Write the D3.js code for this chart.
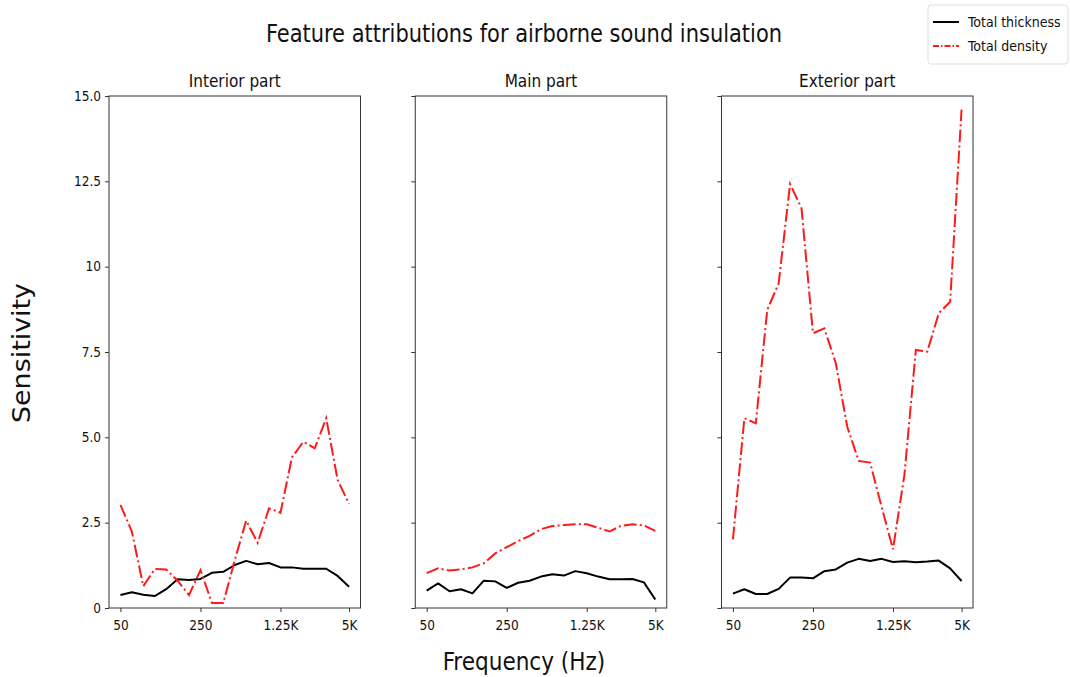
<!DOCTYPE html>
<html>
<head>
<meta charset="utf-8">
<script src="https://cdn.jsdelivr.net/npm/d3@7.9.0/dist/d3.min.js"></script>
<style>
  body { margin: 0; background: #fff; }
  svg { display: block; font-family: "DejaVu Sans", sans-serif; }
</style>
</head>
<body>
<svg id="chart" width="1070" height="677"></svg>
<script>
// third-octave bands, 50 Hz .. 5 kHz
const bands = ['50','63','80','100','125','160','200','250','315','400','500','630','800','1K','1.25K','1.6K','2K','2.5K','3.15K','4K','5K'];
const xTickIdx = [0, 7, 14, 20];
const xTickLabels = ['50', '250', '1.25K', '5K'];
const yTicks = [0, 2.5, 5, 7.5, 10, 12.5, 15];
const yTickLabels = ['0', '2.5', '5.0', '7.5', '10', '12.5', '15.0'];

const panelTitles = ['Interior part', 'Main part', 'Exterior part'];

const thicknessInterior = [0.38, 0.46, 0.39, 0.35, 0.55, 0.84, 0.82, 0.85, 1.03, 1.06, 1.26, 1.38, 1.28, 1.32, 1.19, 1.19, 1.15, 1.15, 1.15, 0.94, 0.62];
const densityInterior   = [3.02, 2.24, 0.64, 1.14, 1.13, 0.80, 0.38, 1.11, 0.15, 0.15, 1.40, 2.56, 1.91, 2.92, 2.79, 4.41, 4.87, 4.68, 5.56, 3.75, 3.05];

const thicknessMain = [0.51, 0.72, 0.49, 0.55, 0.43, 0.80, 0.78, 0.59, 0.74, 0.80, 0.92, 0.99, 0.95, 1.08, 1.02, 0.92, 0.84, 0.84, 0.85, 0.75, 0.25];
const densityMain   = [1.02, 1.16, 1.10, 1.13, 1.19, 1.31, 1.60, 1.78, 1.96, 2.11, 2.31, 2.40, 2.43, 2.45, 2.45, 2.35, 2.24, 2.41, 2.45, 2.42, 2.26];

const thicknessExterior = [0.42, 0.55, 0.41, 0.41, 0.56, 0.89, 0.89, 0.87, 1.08, 1.13, 1.33, 1.44, 1.38, 1.44, 1.35, 1.37, 1.34, 1.36, 1.39, 1.16, 0.79];
const densityExterior   = [2.01, 5.56, 5.41, 8.73, 9.51, 12.42, 11.71, 8.05, 8.19, 7.17, 5.31, 4.31, 4.26, 2.97, 1.72, 3.90, 7.56, 7.51, 8.63, 8.97, 14.60];

const panels = [
  { title: panelTitles[0], thick: thicknessInterior, dens: densityInterior },
  { title: panelTitles[1], thick: thicknessMain, dens: densityMain },
  { title: panelTitles[2], thick: thicknessExterior, dens: densityExterior }
];

const svg = d3.select('#chart');
const plotTop = 96, plotBottom = 608;
const left0 = 109, panelW = 251.5, gap = 54.75;
const spine = '#333';
const dashDot = '12.8,3.2,2,3.2';
const condensed = '"DejaVu Sans Condensed", "DejaVu Sans", sans-serif';

const y = d3.scaleLinear().domain([0, 15]).range([plotBottom, plotTop]);

panels.forEach((p, k) => {
  const x0 = left0 + k * (panelW + gap);
  const x = d3.scaleLinear().domain([-1, bands.length]).range([x0, x0 + panelW]);
  const g = svg.append('g');

  const line = d3.line()
    .x((d, i) => x(i))
    .y(d => y(d));

  g.append('path')
    .datum(p.thick)
    .attr('d', line)
    .attr('fill', 'none')
    .attr('stroke', '#000')
    .attr('stroke-width', 2)
    .attr('stroke-linejoin', 'round');

  g.append('path')
    .datum(p.dens)
    .attr('d', line)
    .attr('fill', 'none')
    .attr('stroke', '#ff1a1a')
    .attr('stroke-width', 2)
    .attr('stroke-dasharray', dashDot);

  // frame
  g.append('rect')
    .attr('x', x0).attr('y', plotTop)
    .attr('width', panelW).attr('height', plotBottom - plotTop)
    .attr('fill', 'none').attr('stroke', spine).attr('stroke-width', 1);

  // x axis
  const xAxis = d3.axisBottom(x)
    .tickValues(xTickIdx)
    .tickFormat((d, i) => xTickLabels[i])
    .tickSize(4).tickPadding(8);
  const gx = g.append('g').attr('transform', `translate(0,${plotBottom})`).call(xAxis);
  gx.select('.domain').remove();
  gx.selectAll('line').attr('stroke', spine);
  gx.selectAll('text').attr('font-size', 13.5).attr('fill', '#111')
    .attr('font-family', condensed);

  // y axis (labels only on the first panel, shared scale)
  const yAxis = d3.axisLeft(y)
    .tickValues(yTicks)
    .tickFormat((d, i) => k === 0 ? yTickLabels[i] : '')
    .tickSize(4).tickPadding(4);
  const gy = g.append('g').attr('transform', `translate(${x0},0)`).call(yAxis);
  gy.select('.domain').remove();
  gy.selectAll('line').attr('stroke', spine);
  gy.selectAll('text').attr('font-size', 13.5).attr('fill', '#111')
    .attr('font-family', condensed);

  // panel title
  g.append('text')
    .attr('x', x0 + panelW / 2).attr('y', 87)
    .attr('text-anchor', 'middle')
    .attr('font-size', 17)
    .attr('font-family', condensed)
    .attr('fill', '#111')
    .text(p.title);
});

// figure title
svg.append('text')
  .attr('x', 524).attr('y', 42)
  .attr('text-anchor', 'middle')
  .attr('font-size', 24)
  .attr('font-family', condensed)
  .attr('textLength', 516).attr('lengthAdjust', 'spacingAndGlyphs')
  .attr('fill', '#111')
  .text('Feature attributions for airborne sound insulation');

// axis titles
svg.append('text')
  .attr('x', 524).attr('y', 670)
  .attr('text-anchor', 'middle')
  .attr('font-size', 24)
  .attr('font-family', condensed)
  .attr('fill', '#111')
  .text('Frequency (Hz)');

svg.append('text')
  .attr('transform', 'translate(30,353) rotate(-90)')
  .attr('text-anchor', 'middle')
  .attr('font-size', 25)
  .attr('font-family', '"DejaVu Sans", sans-serif')
  .attr('textLength', 140).attr('lengthAdjust', 'spacingAndGlyphs')
  .attr('fill', '#111')
  .text('Sensitivity');

// legend
const legend = svg.append('g').attr('transform', 'translate(928,5)');
legend.append('rect')
  .attr('width', 140).attr('height', 59).attr('rx', 3)
  .attr('fill', '#fff').attr('stroke', '#ddd');
const legendItems = [
  { label: 'Total thickness', color: '#000', dash: null },
  { label: 'Total density', color: '#ff1a1a', dash: '6,2,1.5,2' }
];
legendItems.forEach((d, i) => {
  const yy = 17 + i * 24;
  legend.append('line')
    .attr('x1', 5).attr('x2', 31).attr('y1', yy).attr('y2', yy)
    .attr('stroke', d.color).attr('stroke-width', 2)
    .attr('stroke-dasharray', d.dash);
  legend.append('text')
    .attr('x', 40).attr('y', yy + 5)
    .attr('font-size', 14)
    .attr('font-family', condensed)
    .attr('fill', '#111')
    .text(d.label);
});
</script>
</body>
</html>
